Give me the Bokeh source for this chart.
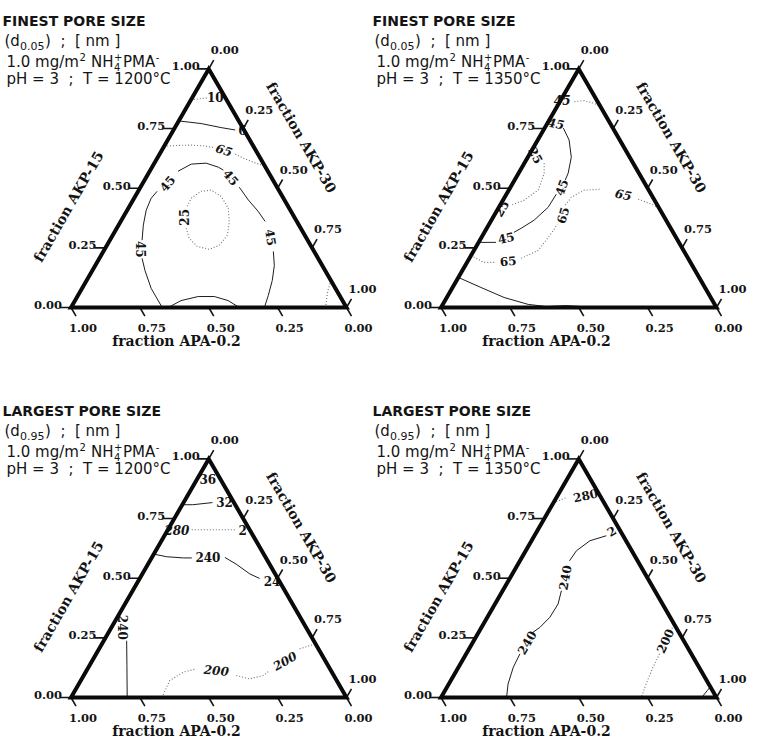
import math
from bokeh.plotting import figure
from bokeh.models import Range1d
from bokeh.core.properties import value
from bokeh.embed import file_html
from bokeh.resources import INLINE

# ---------------- data ----------------
# ternary points are (fraction AKP-15, fraction AKP-30); fraction APA-0.2 = 1 - both
TICK_VALUES = [0.0, 0.25, 0.50, 0.75, 1.00]
TICK_TEXT = ["0.00", "0.25", "0.50", "0.75", "1.00"]
AXIS_BOTTOM = "fraction APA-0.2"
AXIS_LEFT = "fraction AKP-15"
AXIS_RIGHT = "fraction AKP-30"

TITLE_SIZE = ["FINEST PORE SIZE", "FINEST PORE SIZE", "LARGEST PORE SIZE", "LARGEST PORE SIZE"]
TITLE_D = ["0.05", "0.05", "0.95", "0.95"]
TITLE_T = ["1200", "1350", "1200", "1350"]
NB = "\u00a0"
UNIT_TEXT = ")" + NB * 2 + ";" + NB * 2 + "[" + NB + "nm" + NB + "]"
# dispersant line: (text, role) role: n = normal, sup = superscript, sub = subscript (no advance)
DISPERSANT = [("1.0" + NB + "mg/m", "n"), ("2", "sup"), (NB + "NH", "n"), ("4", "sub"),
              ("+", "sup"), ("PMA", "n"), ("-", "sup")]

# panel 1 : finest pore size, 1200 C
p1_solid = [
    [(0.782, 0.000), (0.771, 0.087), (0.754, 0.168), (0.744, 0.224)],
    [(0.000, 0.331), (0.080, 0.251), (0.155, 0.191), (0.206, 0.155)],
    [(0.282, 0.117), (0.345, 0.090), (0.408, 0.069), (0.458, 0.062), (0.487, 0.069)],
    [(0.571, 0.103), (0.601, 0.136), (0.605, 0.188), (0.588, 0.241), (0.576, 0.265)],
    [(0.504, 0.359), (0.450, 0.419), (0.403, 0.478), (0.361, 0.524)],
    [(0.235, 0.617), (0.176, 0.650), (0.113, 0.674), (0.050, 0.691), (0.000, 0.702)],
    [(0.000, 0.353), (0.029, 0.385), (0.046, 0.439), (0.046, 0.497), (0.029, 0.556), (0.000, 0.611)],
]
p1_dotted = [
    [(0.870, 0.000), (0.876, 0.035), (0.878, 0.056)],
    [(0.676, 0.000), (0.679, 0.043), (0.681, 0.096), (0.676, 0.153), (0.671, 0.181)],
    [(0.643, 0.275), (0.626, 0.312), (0.609, 0.357), (0.592, 0.408)],
    [(0.424, 0.210), (0.458, 0.207), (0.487, 0.229), (0.492, 0.263), (0.466, 0.312),
     (0.416, 0.363), (0.357, 0.396), (0.303, 0.416), (0.261, 0.408), (0.244, 0.380),
     (0.256, 0.330), (0.290, 0.284), (0.332, 0.252)],
    [(0.113, 0.887), (0.063, 0.899), (0.000, 0.924)],
]
p1_labels = [  # text, AKP-15, AKP-30, angle, italic
    ("10", 0.882, 0.083, 0, False), ("6", 0.744, 0.250, 0, False),
    ("65", 0.662, 0.225, -18, True), ("45", 0.244, 0.133, -90, False),
    ("45", 0.521, 0.088, 50, False), ("45", 0.546, 0.309, -50, False),
    ("45", 0.294, 0.580, -80, False), ("25", 0.378, 0.222, 90, False),
]

# panel 2 : finest pore size, 1350 C
p2_solid = [
    [(0.752, 0.068), (0.702, 0.114), (0.630, 0.158), (0.563, 0.180), (0.534, 0.184)],
    [(0.475, 0.181), (0.420, 0.179), (0.366, 0.155), (0.332, 0.125), (0.315, 0.107)],
    [(0.273, 0.063), (0.273, 0.001)],
    [(0.126, 0.000), (0.084, 0.103), (0.042, 0.208), (0.013, 0.310), (0.004, 0.380),
     (0.008, 0.451), (0.004, 0.507), (0.000, 0.527)],
]
p2_dotted = [
    [(0.863, 0.053), (0.867, 0.087), (0.856, 0.128), (0.842, 0.154)],
    [(0.605, 0.072), (0.563, 0.093), (0.492, 0.107), (0.450, 0.077), (0.429, 0.041)],
    [(0.218, 0.000), (0.189, 0.061), (0.189, 0.105)],
    [(0.206, 0.188), (0.239, 0.233), (0.311, 0.245), (0.349, 0.248)],
    [(0.429, 0.237), (0.462, 0.242), (0.492, 0.274), (0.496, 0.334)],
    [(0.454, 0.489), (0.433, 0.548), (0.416, 0.584)],
]
p2_labels = [
    ("45", 0.870, 0.005, 0, True), ("45", 0.773, 0.031, -10, True),
    ("45", 0.504, 0.184, 70, False), ("45", 0.294, 0.089, 12, False),
    ("25", 0.639, 0.026, -62, False), ("25", 0.416, 0.010, 60, False),
    ("65", 0.197, 0.145, 5, False), ("65", 0.387, 0.247, 75, False),
    ("65", 0.475, 0.425, -12, True),
]

# panel 3 : largest pore size, 1200 C
p3_solid = [
    [(0.808, 0.000), (0.808, 0.038), (0.817, 0.105)],
    [(0.601, 0.000), (0.590, 0.052), (0.585, 0.115), (0.585, 0.146)],
    [(0.587, 0.265), (0.559, 0.320), (0.518, 0.390), (0.499, 0.435)],
    [(0.238, 0.083), (0.134, 0.136), (0.000, 0.204)],
]
p3_dotted = [
    [(0.703, 0.087), (0.703, 0.171), (0.703, 0.250)],
    [(0.000, 0.330), (0.071, 0.323), (0.106, 0.354), (0.120, 0.395)],
    [(0.092, 0.554), (0.078, 0.610), (0.092, 0.651), (0.113, 0.665)],
    [(0.204, 0.728), (0.225, 0.775)],
]
p3_labels = [
    ("36", 0.915, 0.039, 0, False), ("32", 0.821, 0.147, 0, False),
    ("280", 0.703, 0.033, 0, True), ("2", 0.702, 0.272, 0, False),
    ("240", 0.590, 0.202, 0, False), ("24", 0.490, 0.485, 0, False),
    ("240", 0.294, 0.042, -90, False),
    ("200", 0.116, 0.470, -5, True), ("200", 0.155, 0.698, 30, True),
]

# panel 4 : largest pore size, 1350 C
p4_solid = [
    [(0.678, 0.261), (0.657, 0.212), (0.615, 0.184), (0.573, 0.180)],
    [(0.448, 0.213), (0.392, 0.229), (0.336, 0.227), (0.294, 0.212), (0.273, 0.197)],
    [(0.183, 0.195), (0.127, 0.199), (0.057, 0.215), (0.000, 0.238)],
    [(0.000, 0.946), (0.029, 0.952), (0.045, 0.955)],
]
p4_dotted = [
    [(0.816, 0.000), (0.838, 0.036)],
    [(0.289, 0.693), (0.300, 0.700)],
    [(0.183, 0.702), (0.127, 0.706), (0.057, 0.716), (0.000, 0.727)],
]
p4_labels = [
    ("280", 0.849, 0.100, 12, False), ("2", 0.699, 0.269, 30, False),
    ("240", 0.503, 0.197, 80, False), ("240", 0.231, 0.195, 60, False),
    ("200", 0.238, 0.693, 65, False),
]

# ---------------- layout ----------------
W, H = 758, 739
ORIGINS = [(0, 0), (370, 0), (0, 390), (370, 390)]
X0, BASE_Y, SIDE = 70.5, 307.0, 275.5
HGT = SIDE * math.sqrt(3) / 2.0

# DejaVu Sans advance widths (em) for laying out header pieces
SANS_W = {"1": .636, ".": .318, "0": .636, "2": .636, "4": .636, " ": .318, NB: .318,
          "m": .974, "g": .635, "/": .337, "N": .748, "H": .752, "P": .603, "M": .863,
          "A": .684, "+": .838, "-": .361}


def sans_width(s, size):
    return sum(SANS_W[ch] for ch in s) * size


def tern(o, b, c):
    ox, oy = o
    return ox + X0 + SIDE * (c + b / 2.0), H - (oy + BASE_Y - HGT * b)


def loc(o, lx, ly):
    return o[0] + lx, H - (o[1] + ly)


p = figure(width=W, height=H, x_range=Range1d(0, W), y_range=Range1d(0, H),
           output_backend="svg", toolbar_location=None,
           x_axis_type=None, y_axis_type=None, min_border=0)
p.outline_line_color = None
p.background_fill_color = "white"
p.border_fill_color = "white"

SERIF = value("DejaVu Serif")
SANS = value("DejaVu Sans")
INK = "#141414"

panels = [
    (p1_solid, p1_dotted, p1_labels),
    (p2_solid, p2_dotted, p2_labels),
    (p3_solid, p3_dotted, p3_labels),
    (p4_solid, p4_dotted, p4_labels),
]

sx, sy, dx, dy = [], [], [], []
lab_up = dict(x=[], y=[], t=[], a=[])
lab_it = dict(x=[], y=[], t=[], a=[])
for o, (solid, dotted, labels) in zip(ORIGINS, panels):
    for seg in solid:
        pts = [tern(o, b, c) for b, c in seg]
        sx.append([q[0] for q in pts]); sy.append([q[1] for q in pts])
    for seg in dotted:
        pts = [tern(o, b, c) for b, c in seg]
        dx.append([q[0] for q in pts]); dy.append([q[1] for q in pts])
    for t, b, c, ang, it in labels:
        x, y = tern(o, b, c)
        d = lab_it if it else lab_up
        d["x"].append(x); d["y"].append(y); d["t"].append(t); d["a"].append(ang)

p.multi_line(xs=dx, ys=dy, line_color="#707070", line_width=1.1, line_dash="1 2")
p.multi_line(xs=sx, ys=sy, line_color="#1e1e1e", line_width=1.0)
p.text(x=lab_up["x"], y=lab_up["y"], text=lab_up["t"], angle=lab_up["a"], angle_units="deg",
       text_font=SERIF, text_font_style="bold", text_font_size="12px",
       text_align="center", text_baseline="middle", text_color=INK)
p.text(x=lab_it["x"], y=lab_it["y"], text=lab_it["t"], angle=lab_it["a"], angle_units="deg",
       text_font=SERIF, text_font_style="bold italic", text_font_size="12px",
       text_align="center", text_baseline="middle", text_color=INK)


def put(o, lx, ly, s, size, style="normal", font=SANS, align="left"):
    x, y = loc(o, lx, ly)
    p.text(x=[x], y=[y], text=[s], text_font=font, text_font_style=style,
           text_font_size=f"{size}px", text_align=align, text_baseline="middle", text_color=INK)


for i, o in enumerate(ORIGINS):
    # ticks
    tx0, ty0, tx1, ty1 = [], [], [], []
    lx, ly, lt = [], [], []
    bx, by, bt = [], [], []
    rx, ry, rt = [], [], []
    for v, s in zip(TICK_VALUES, TICK_TEXT):
        # left axis : AKP-15
        x, y = tern(o, v, 0.0)
        tx0.append(x); ty0.append(y); tx1.append(x - 11); ty1.append(y)
        lx.append(x - 9); ly.append(y + 2.5); lt.append(s)
        # bottom axis : APA-0.2
        x, y = tern(o, 0.0, 1.0 - v)
        tx0.append(x); ty0.append(y); tx1.append(x + 5); ty1.append(y - 8.7)
        bx.append(x + 12); by.append(y - 20); bt.append(s)
        # right axis : AKP-30
        x, y = tern(o, 1.0 - v, v)
        tx0.append(x); ty0.append(y); tx1.append(x + 5); ty1.append(y + 8.7)
        rx.append(x + 2); ry.append(y + 18.5); rt.append(s)
    p.segment(x0=tx0, y0=ty0, x1=tx1, y1=ty1, line_color=INK, line_width=1.6)
    for xs_, ys_, ts_, al in ((lx, ly, lt, "right"), (bx, by, bt, "center"), (rx, ry, rt, "left")):
        p.text(x=xs_, y=ys_, text=ts_, text_font=SERIF, text_font_style="bold",
               text_font_size="11.5px", text_align=al, text_baseline="middle", text_color=INK)

    # triangle edges
    vx, vy = zip(*[tern(o, b, c) for b, c in [(0, 0), (1, 0), (0, 1), (0, 0), (1, 0)]])
    p.line(x=list(vx), y=list(vy), line_color="#0a0a0a", line_width=4, line_join="miter")

    # axis titles
    put(o, 176, 340, AXIS_BOTTOM, 14, "bold", SERIF, "center")
    ax, ay = loc(o, 68, 206)
    p.text(x=[ax], y=[ay], text=[AXIS_LEFT], angle=[60], angle_units="deg", text_font=SERIF,
           text_font_style="bold", text_font_size="14px", text_align="center",
           text_baseline="middle", text_color=INK)
    ax, ay = loc(o, 301, 137)
    p.text(x=[ax], y=[ay], text=[AXIS_RIGHT], angle=[-60], angle_units="deg", text_font=SERIF,
           text_font_style="bold", text_font_size="14px", text_align="center",
           text_baseline="middle", text_color=INK)

    # header
    put(o, 2, 20, TITLE_SIZE[i], 14, "bold")
    put(o, 4, 40, "(d", 15)
    put(o, 19.5, 45, TITLE_D[i], 11)
    put(o, 44.5, 40, UNIT_TEXT, 15)
    cx = 6.0
    for s, role in DISPERSANT:
        if role == "n":
            put(o, cx, 61, s, 15)
            cx += sans_width(s, 15)
        elif role == "sup":
            put(o, cx + 0.5, 56.5, s, 10)
            cx += sans_width(s, 10) + 1
        else:
            put(o, cx + 0.5, 66.5, s, 10)
    put(o, 6, 78, "pH" + NB + "=" + NB + "3" + NB * 2 + ";" + NB * 2 + "T" + NB + "=" + NB
        + TITLE_T[i] + "\u00b0C", 15)

open("out.html", "w").write(file_html(p, INLINE))
